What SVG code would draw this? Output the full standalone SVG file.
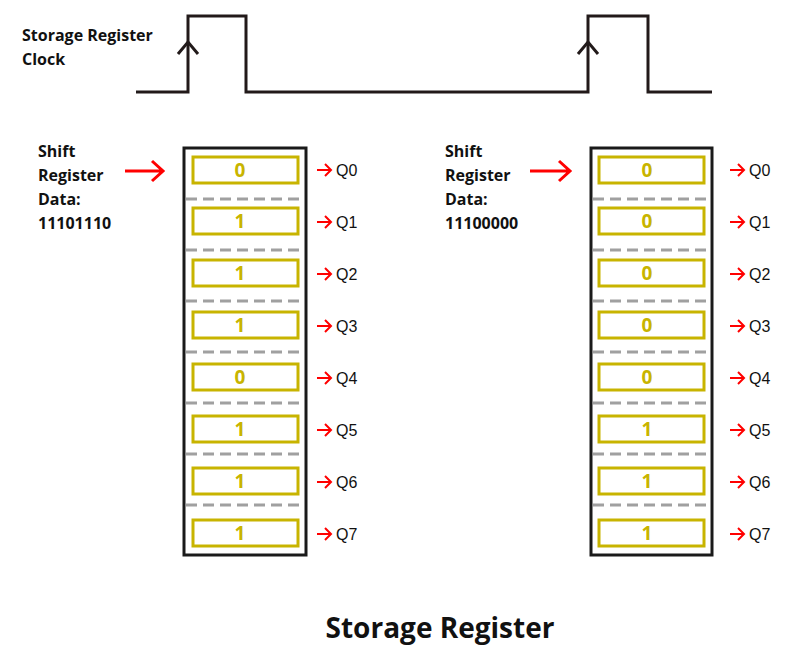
<svg xmlns="http://www.w3.org/2000/svg" width="798" height="664" viewBox="0 0 798 664">
<defs>
<style>
.lbl{font-family:"Open Sans","Liberation Sans",sans-serif;font-weight:bold;font-size:16px;fill:#111}
.q{font-family:"Liberation Sans",sans-serif;font-size:16px;fill:#111}
.bit{font-family:"Open Sans","Liberation Sans",sans-serif;font-weight:bold;font-size:19px;fill:#c8b400;text-anchor:middle}
.cell{fill:#fff;stroke:#c8b400;stroke-width:3}
.box{fill:#fff;stroke:#1a1a1a;stroke-width:3}
.dash{stroke:#a0a0a0;stroke-width:3;stroke-dasharray:11,6}
.ra{fill:none;stroke:#f00;stroke-width:2}
.rb{fill:none;stroke:#f00;stroke-width:3}
</style>
</defs>
<g id="clock" fill="none" stroke="#221a1a" stroke-width="3">
<path d="M136 92H188V16H246V92H588V16H648V92H712"/>
<path d="M178 54L188 42L198 54M578 54L588 42L598 54"/>
</g>
<text class="lbl" x="22" y="41">Storage Register</text>
<text class="lbl" x="22" y="65">Clock</text>
<g id="reg1">
<rect class="box" x="184" y="148" width="122" height="407"/>
<g class="dash"><line x1="186" y1="199" x2="304" y2="199"/><line x1="186" y1="250" x2="304" y2="250"/><line x1="186" y1="301" x2="304" y2="301"/><line x1="186" y1="352" x2="304" y2="352"/><line x1="186" y1="403" x2="304" y2="403"/><line x1="186" y1="454" x2="304" y2="454"/><line x1="186" y1="505" x2="304" y2="505"/></g>
<rect class="cell" x="193" y="157" width="105" height="26"/><text class="bit" x="240" y="177">0</text>
<rect class="cell" x="193" y="208" width="105" height="26"/><text class="bit" x="240" y="228">1</text>
<rect class="cell" x="193" y="260" width="105" height="26"/><text class="bit" x="240" y="280">1</text>
<rect class="cell" x="193" y="312" width="105" height="26"/><text class="bit" x="240" y="332">1</text>
<rect class="cell" x="193" y="364" width="105" height="26"/><text class="bit" x="240" y="384">0</text>
<rect class="cell" x="193" y="416" width="105" height="26"/><text class="bit" x="240" y="436">1</text>
<rect class="cell" x="193" y="468" width="105" height="26"/><text class="bit" x="240" y="488">1</text>
<rect class="cell" x="193" y="520" width="105" height="26"/><text class="bit" x="240" y="540">1</text>
</g>
<g id="reg2">
<rect class="box" x="591" y="148" width="121" height="407"/>
<g class="dash"><line x1="593" y1="199" x2="710" y2="199"/><line x1="593" y1="250" x2="710" y2="250"/><line x1="593" y1="301" x2="710" y2="301"/><line x1="593" y1="352" x2="710" y2="352"/><line x1="593" y1="403" x2="710" y2="403"/><line x1="593" y1="454" x2="710" y2="454"/><line x1="593" y1="505" x2="710" y2="505"/></g>
<rect class="cell" x="599" y="157" width="105" height="26"/><text class="bit" x="647" y="177">0</text>
<rect class="cell" x="599" y="208" width="105" height="26"/><text class="bit" x="647" y="228">0</text>
<rect class="cell" x="599" y="260" width="105" height="26"/><text class="bit" x="647" y="280">0</text>
<rect class="cell" x="599" y="312" width="105" height="26"/><text class="bit" x="647" y="332">0</text>
<rect class="cell" x="599" y="364" width="105" height="26"/><text class="bit" x="647" y="384">0</text>
<rect class="cell" x="599" y="416" width="105" height="26"/><text class="bit" x="647" y="436">1</text>
<rect class="cell" x="599" y="468" width="105" height="26"/><text class="bit" x="647" y="488">1</text>
<rect class="cell" x="599" y="520" width="105" height="26"/><text class="bit" x="647" y="540">1</text>
</g>
<g id="label1">
<text class="lbl" x="38" y="157">Shift</text><text class="lbl" x="38" y="181">Register</text><text class="lbl" x="38" y="205">Data:</text><text class="lbl" x="38" y="229">11101110</text>
</g>
<g id="label2">
<text class="lbl" x="445" y="157">Shift</text><text class="lbl" x="445" y="181">Register</text><text class="lbl" x="445" y="205">Data:</text><text class="lbl" x="445" y="229">11100000</text>
</g>
<g id="outputs" class="q">
<text x="336" y="176">Q0</text><text x="336" y="228">Q1</text><text x="336" y="280">Q2</text><text x="336" y="332">Q3</text><text x="336" y="384">Q4</text><text x="336" y="436">Q5</text><text x="336" y="488">Q6</text><text x="336" y="540">Q7</text>
<text x="749" y="176">Q0</text><text x="749" y="228">Q1</text><text x="749" y="280">Q2</text><text x="749" y="332">Q3</text><text x="749" y="384">Q4</text><text x="749" y="436">Q5</text><text x="749" y="488">Q6</text><text x="749" y="540">Q7</text>
</g>
<g id="connectors">
<path class="rb" d="M125 171H162M152 161L163 171L152 181M530 171H569M559 161L570 171L559 181"/>
<path class="ra" d="M317 170H331M325 164L331 170L325 176M317 222H331M325 216L331 222L325 228M317 274H331M325 268L331 274L325 280M317 326H331M325 320L331 326L325 332M317 378H331M325 372L331 378L325 384M317 430H331M325 424L331 430L325 436M317 482H331M325 476L331 482L325 488M317 534H331M325 528L331 534L325 540"/>
<path class="ra" d="M730 170H744M738 164L744 170L738 176M730 222H744M738 216L744 222L738 228M730 274H744M738 268L744 274L738 280M730 326H744M738 320L744 326L738 332M730 378H744M738 372L744 378L738 384M730 430H744M738 424L744 430L738 436M730 482H744M738 476L744 482L738 488M730 534H744M738 528L744 534L738 540"/>
</g>
<text x="440" y="638" text-anchor="middle" font-family="Open Sans, Liberation Sans, sans-serif" font-weight="bold" font-size="28" fill="#111">Storage Register</text>
</svg>
